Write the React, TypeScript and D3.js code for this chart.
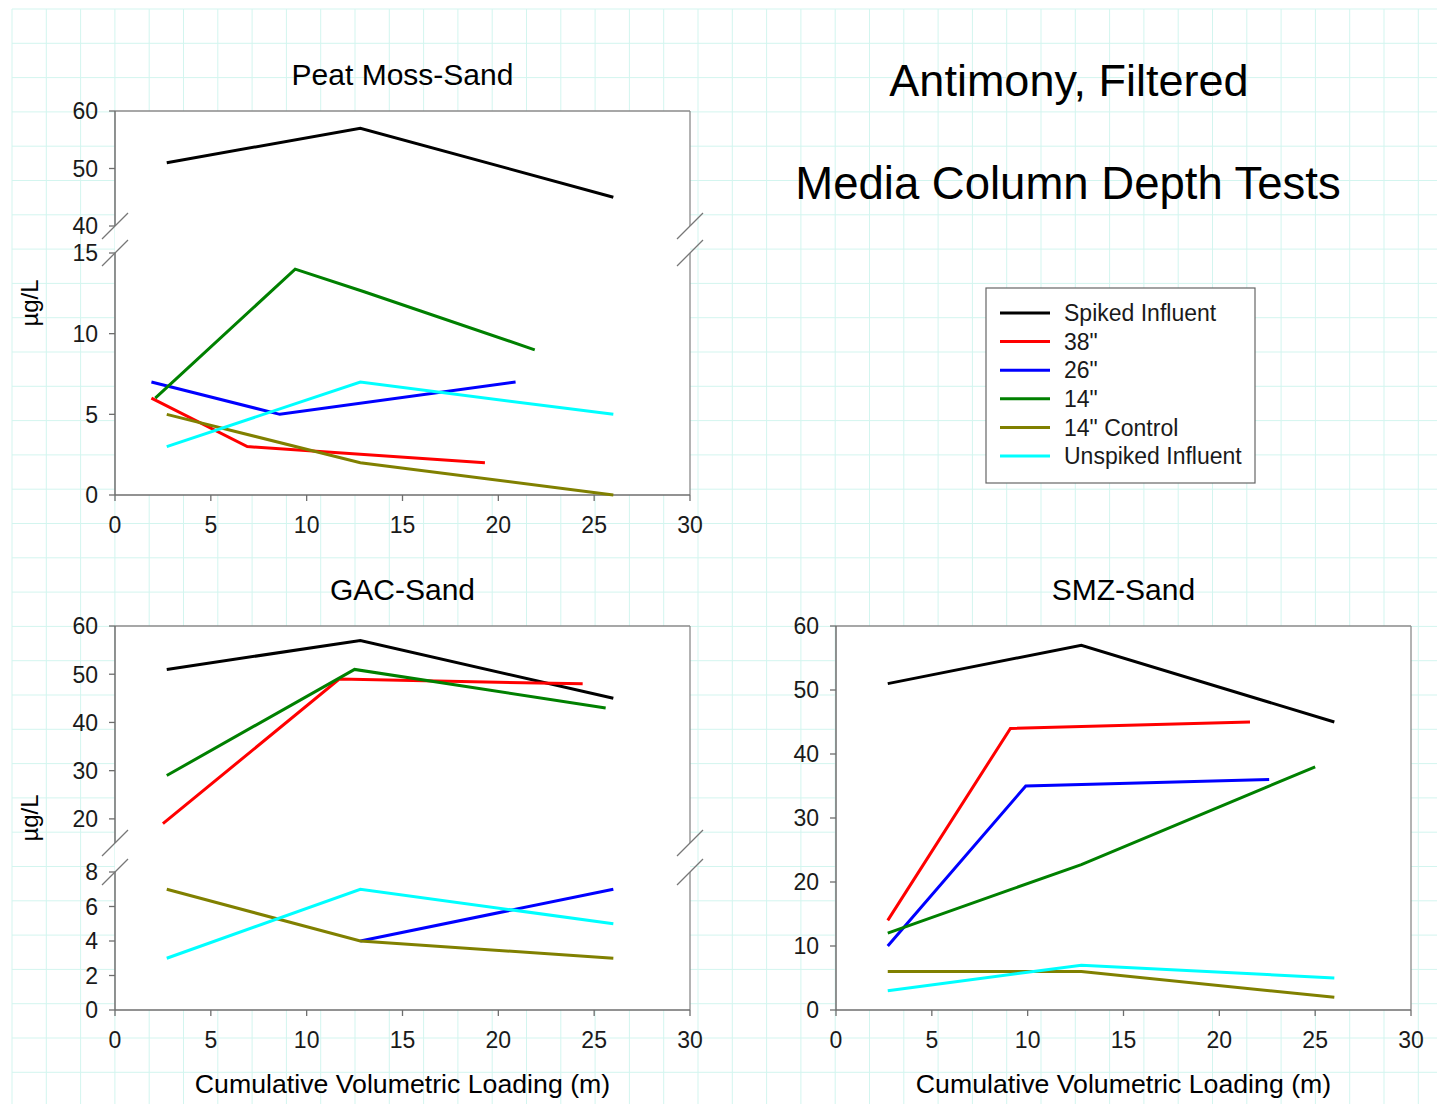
import React from "react";
import * as d3 from "d3";

const W = 1437;
const H = 1104;

const seriesNames = ["Spiked Influent", "38\"", "26\"", "14\"", "14\" Control", "Unspiked Influent"];
const seriesColors = ["#000000", "#ff0000", "#0000ff", "#008000", "#808000", "#00ffff"];

const xTicks = [0, 5, 10, 15, 20, 25, 30];

// Peat Moss-Sand
const peatSpiked = [[2.7, 51], [12.8, 57], [26, 45]];
const peat38 = [[1.9, 6], [6.9, 3], [19.3, 2]];
const peat26 = [[1.9, 7], [8.6, 5], [20.9, 7]];
const peat14 = [[2.1, 6], [9.4, 14], [13.0, 12.6], [21.9, 9]];
const peatControl = [[2.7, 5], [12.8, 2], [26, 0]];
const peatUnspiked = [[2.7, 3], [12.8, 7], [26, 5]];

// GAC-Sand
const gacSpiked = [[2.7, 51], [12.8, 57], [26, 45]];
const gac38 = [[2.5, 19], [11.7, 49], [24.4, 48]];
const gac26 = [[12.8, 4], [26, 7]];
const gac14 = [[2.7, 29], [12.5, 51], [25.6, 43]];
const gacControl = [[2.7, 7], [12.8, 4], [26, 3]];
const gacUnspiked = [[2.7, 3], [12.8, 7], [26, 5]];

// SMZ-Sand
const smzSpiked = [[2.7, 51], [12.8, 57], [26, 45]];
const smz38 = [[2.7, 14], [9.1, 44], [21.6, 45]];
const smz26 = [[2.7, 10], [9.9, 35], [22.6, 36]];
const smz14 = [[2.7, 12], [9.1, 18.8], [12.8, 22.7], [25, 38]];
const smzControl = [[2.7, 6], [12.8, 6], [26, 2]];
const smzUnspiked = [[2.7, 3], [12.8, 7], [26, 5]];

const peatUpperTicks = [40, 50, 60];
const peatLowerTicks = [0, 5, 10, 15];
const gacUpperTicks = [20, 30, 40, 50, 60];
const gacLowerTicks = [0, 2, 4, 6, 8];
const smzTicks = [0, 10, 20, 30, 40, 50, 60];

const FONT = "'Liberation Sans', Arial, Helvetica, sans-serif";

type Seg = { domain: [number, number]; range: [number, number]; ticks: number[] };

function Panel(props: {
  title: string;
  x0: number;
  x1: number;
  top: number;
  bottom: number;
  segs: Seg[];
  series: number[][][];
  yLabel?: boolean;
  xLabel?: boolean;
}) {
  const { title, x0, x1, top, bottom, segs, series, yLabel, xLabel } = props;
  const x = d3.scaleLinear().domain([0, 30]).range([x0, x1]);
  const scales = segs.map((s) => d3.scaleLinear().domain(s.domain).range(s.range));
  const yOf = (v: number) => {
    for (let i = 0; i < segs.length; i++) {
      if (v >= segs[i].domain[0] && v <= segs[i].domain[1]) return scales[i](v);
    }
    return scales[scales.length - 1](v);
  };
  const line = d3
    .line<number[]>()
    .x((d) => x(d[0]))
    .y((d) => yOf(d[1]));
  const axisColor = "#6e6e6e";
  const frameColor = "#8a8a8a";
  const breaks: number[] = [];
  if (segs.length > 1) {
    breaks.push(segs[0].range[0]);
    breaks.push(segs[1].range[1]);
  }
  const cx = (x0 + x1) / 2;
  return (
    <g>
      <rect x={x0} y={top} width={x1 - x0} height={bottom - top} fill="#ffffff" />
      <line x1={x0} x2={x1} y1={top} y2={top} stroke={frameColor} strokeWidth={1.3} />
      {segs.map((s, i) => (
        <g key={"seg" + i}>
          <line x1={x0} x2={x0} y1={s.range[1]} y2={s.range[0]} stroke={axisColor} strokeWidth={1.5} />
          <line x1={x1} x2={x1} y1={s.range[1]} y2={s.range[0]} stroke={frameColor} strokeWidth={1.3} />
          {s.ticks.map((t) => (
            <g key={t}>
              <line x1={x0 - 6} x2={x0} y1={scales[i](t)} y2={scales[i](t)} stroke={axisColor} strokeWidth={1.3} />
              <text
                x={x0 - 17}
                y={scales[i](t)}
                dy="0.36em"
                textAnchor="end"
                fontSize={23}
                fontFamily={FONT}
                fill="#1a1a1a"
              >
                {t}
              </text>
            </g>
          ))}
        </g>
      ))}
      {breaks.map((b, i) => (
        <g key={"br" + i}>
          <line x1={x0 - 13} y1={b + 13} x2={x0 + 13} y2={b - 13} stroke="#777" strokeWidth={1.3} />
          <line x1={x1 - 13} y1={b + 13} x2={x1 + 13} y2={b - 13} stroke="#777" strokeWidth={1.3} />
        </g>
      ))}
      <line x1={x0} x2={x1} y1={bottom} y2={bottom} stroke={axisColor} strokeWidth={1.5} />
      {xTicks.map((t) => (
        <g key={"x" + t}>
          <line x1={x(t)} x2={x(t)} y1={bottom} y2={bottom + 6} stroke={axisColor} strokeWidth={1.3} />
          <text
            x={x(t)}
            y={bottom + 38}
            textAnchor="middle"
            fontSize={23}
            fontFamily={FONT}
            fill="#1a1a1a"
          >
            {t}
          </text>
        </g>
      ))}
      {series.map((d, i) => (
        <path
          key={"s" + i}
          d={line(d) || ""}
          fill="none"
          stroke={seriesColors[i]}
          strokeWidth={3}
          strokeLinejoin="miter"
        />
      ))}
      <text x={cx} y={top - 26} textAnchor="middle" fontSize={30} fontFamily={FONT} fill="#000">
        {title}
      </text>
      {yLabel && (
        <text
          transform={`translate(38,${(top + bottom) / 2}) rotate(-90)`}
          textAnchor="middle"
          fontSize={24}
          fontFamily={FONT}
          fill="#000"
        >
          µg/L
        </text>
      )}
      {xLabel && (
        <text x={cx} y={bottom + 83} textAnchor="middle" fontSize={26.7} fontFamily={FONT} fill="#000">
          Cumulative Volumetric Loading (m)
        </text>
      )}
    </g>
  );
}

function Grid() {
  const step = 34.3;
  const xs = d3.range(12, W, step);
  const ys = d3.range(9, H, step);
  return (
    <g stroke="#d3f5ef" strokeWidth={1}>
      {xs.map((v, i) => (
        <line key={"gx" + i} x1={v} x2={v} y1={9} y2={H} />
      ))}
      {ys.map((v, i) => (
        <line key={"gy" + i} x1={12} x2={W} y1={v} y2={v} />
      ))}
    </g>
  );
}

function Legend() {
  const lx = 986;
  const ly = 288;
  return (
    <g>
      <rect x={lx} y={ly} width={269} height={195} fill="#ffffff" stroke="#666" strokeWidth={1.2} />
      {seriesNames.map((n, i) => {
        const y = 313 + i * 28.6;
        return (
          <g key={n}>
            <line x1={1000} x2={1050} y1={y} y2={y} stroke={seriesColors[i]} strokeWidth={3} />
            <text x={1064} y={y} dy="0.36em" fontSize={23} fontFamily={FONT} fill="#1a1a1a">
              {n}
            </text>
          </g>
        );
      })}
    </g>
  );
}

export default function App() {
  return (
    <svg
      width={W}
      height={H}
      viewBox={`0 0 ${W} ${H}`}
      style={{ position: "absolute", left: 0, top: 0, background: "#ffffff" }}
    >
      <rect x={0} y={0} width={W} height={H} fill="#ffffff" />
      <Grid />
      <Panel
        title="Peat Moss-Sand"
        x0={115}
        x1={690}
        top={111}
        bottom={495}
        segs={[
          { domain: [40, 60], range: [226, 111], ticks: peatUpperTicks },
          { domain: [0, 15], range: [495, 253], ticks: peatLowerTicks },
        ]}
        series={[peatSpiked, peat38, peat26, peat14, peatControl, peatUnspiked]}
        yLabel
      />
      <Panel
        title="GAC-Sand"
        x0={115}
        x1={690}
        top={626}
        bottom={1010}
        segs={[
          { domain: [15, 60], range: [843, 626], ticks: gacUpperTicks },
          { domain: [0, 8], range: [1010, 872], ticks: gacLowerTicks },
        ]}
        series={[gacSpiked, gac38, gac26, gac14, gacControl, gacUnspiked]}
        yLabel
        xLabel
      />
      <Panel
        title="SMZ-Sand"
        x0={836}
        x1={1411}
        top={626}
        bottom={1010}
        segs={[{ domain: [0, 60], range: [1010, 626], ticks: smzTicks }]}
        series={[smzSpiked, smz38, smz26, smz14, smzControl, smzUnspiked]}
        xLabel
      />
      <text x={1069} y={96} textAnchor="middle" fontSize={45} fontFamily={FONT} fill="#000">
        Antimony, Filtered
      </text>
      <text x={1068} y={199} textAnchor="middle" fontSize={45.5} fontFamily={FONT} fill="#000">
        Media Column Depth Tests
      </text>
      <Legend />
    </svg>
  );
}
